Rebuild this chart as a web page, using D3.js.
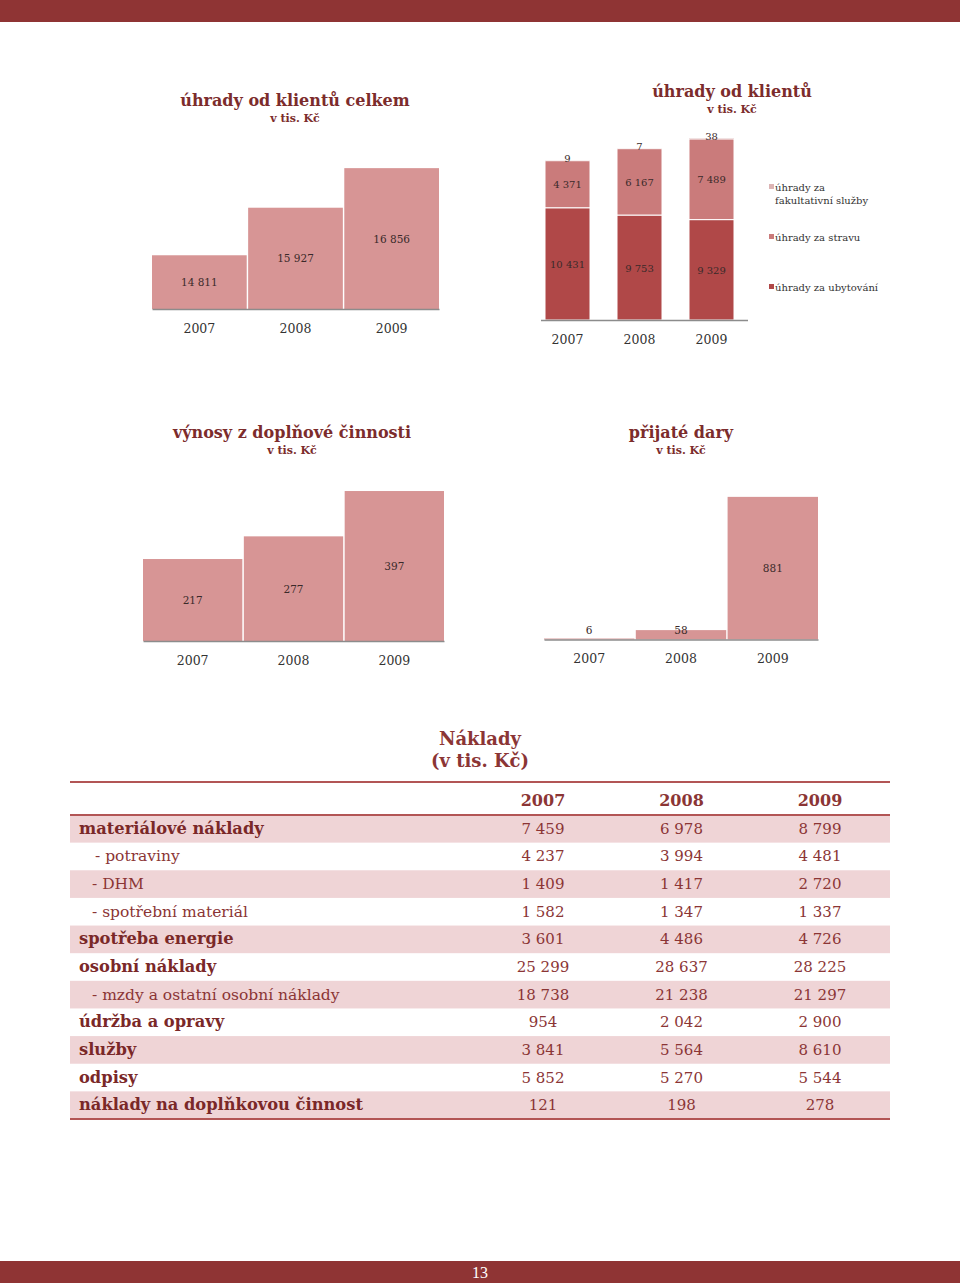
<!DOCTYPE html>
<html><head><meta charset="utf-8">
<script src="https://cdn.jsdelivr.net/npm/d3@7"></script>
<style>
body{margin:0;background:#fff;}
svg{display:block;}
text{font-family:"DejaVu Serif",serif;}
</style></head>
<body>
<script>
// ---------- DATA ----------
const years = ["2007", "2008", "2009"];
const uhradyCelkem = [14811, 15927, 16856];
const uhradyUbytovani = [10431, 9753, 9329];
const uhradyStrava = [4371, 6167, 7489];
const uhradyFakultativni = [9, 7, 38];
const stackSeries = ["úhrady za ubytování", "úhrady za stravu", "úhrady za fakultativní služby"];
const vynosyDoplnkove = [217, 277, 397];
const prijateDary = [6, 58, 881];

const tableTitle = ["Náklady", "(v tis. Kč)"];
const rowLabels = ["materiálové náklady", "- potraviny", "- DHM", "- spotřební materiál", "spotřeba energie",
  "osobní náklady", "- mzdy a ostatní osobní náklady", "údržba a opravy", "služby", "odpisy", "náklady na doplňkovou činnost"];
const rowIsSub = [false, true, true, true, false, false, true, false, false, false, false];
const naklady2007 = [7459, 4237, 1409, 1582, 3601, 25299, 18738, 954, 3841, 5852, 121];
const naklady2008 = [6978, 3994, 1417, 1347, 4486, 28637, 21238, 2042, 5564, 5270, 198];
const naklady2009 = [8799, 4481, 2720, 1337, 4726, 28225, 21297, 2900, 8610, 5544, 278];
const pageNumber = "13";

// ---------- STYLE ----------
const W = 960, H = 1283;
const C = {band:"#8f3434", title:"#7c2c2c", bar:"#d79595", dark:"#b04848", mid:"#ca7b7b", light:"#dcb4b4",
  axis:"#8c8c8c", label:"#3a2a2a", tableText:"#8b3535", shade:"#efd4d6", rule:"#b25555"};
const fmt = v => d3.format(",")(v).replace(/,/g, " ");

const svg = d3.select("body").append("svg").attr("width", W).attr("height", H);

// page bands
svg.append("rect").attr("x",0).attr("y",0).attr("width",W).attr("height",22).attr("fill",C.band);
svg.append("rect").attr("x",0).attr("y",1261).attr("width",W).attr("height",22).attr("fill",C.band);
svg.append("text").attr("x",W/2).attr("y",1278).attr("text-anchor","middle").attr("fill","#fff")
  .style("font-family","'Liberation Serif',serif").attr("font-size",16).text(pageNumber);

function chartTitle(cx, y, t1){
  svg.append("text").attr("x",cx).attr("y",y).attr("text-anchor","middle").attr("fill",C.title)
    .attr("font-weight","bold").attr("font-size",16).text(t1);
  svg.append("text").attr("x",cx).attr("y",y+16).attr("text-anchor","middle").attr("fill",C.title)
    .attr("font-weight","bold").attr("font-size",11).text("v tis. Kč");
}

function simpleBar(opts){
  const {values, xr, yr, domain, padIn, title, tcx, ty} = opts;
  chartTitle(tcx, ty, title);
  const g = svg.append("g");
  const x = d3.scaleBand().domain(years).range(xr).paddingInner(padIn).paddingOuter(0);
  const y = d3.scaleLinear().domain(domain).range(yr);
  const base = yr[0];
  g.selectAll("rect.b").data(values).join("rect").attr("class","b")
    .attr("x",(d,i)=>x(years[i])).attr("width",x.bandwidth())
    .attr("y",d=>y(d)).attr("height",d=>base - y(d)).attr("fill",C.bar);
  g.selectAll("text.v").data(values).join("text").attr("class","v")
    .attr("x",(d,i)=>x(years[i])+x.bandwidth()/2)
    .attr("y",d=>Math.min((y(d)+base)/2, base-10)+4)
    .attr("text-anchor","middle").attr("font-size",10.5).attr("fill",C.label).text(d=>fmt(d));
  const ax = g.append("g").attr("transform",`translate(0,${base})`)
    .call(d3.axisBottom(x).tickSize(0).tickPadding(15));
  ax.select(".domain").attr("stroke",C.axis).attr("stroke-width",1.6);
  ax.selectAll("text").attr("font-size",12.5).attr("fill","#333").style("font-family","'DejaVu Serif',serif");
}

// chart 1
simpleBar({values:uhradyCelkem, xr:[152,439], yr:[309,162], domain:[13550,17000], padIn:0.015,
  title:"úhrady od klientů celkem", tcx:295, ty:106});
// chart 3
simpleBar({values:vynosyDoplnkove, xr:[143,444], yr:[641,471], domain:[0,450], padIn:0.015,
  title:"výnosy z doplňové činnosti", tcx:292, ty:438});
// chart 4
simpleBar({values:prijateDary, xr:[544,818], yr:[639.5,477.6], domain:[0,1000], padIn:0.015,
  title:"přijaté dary", tcx:681, ty:438});

// chart 2 stacked
(function(){
  chartTitle(732, 97, "úhrady od klientů");
  const rows = years.map((yr,i)=>({year:yr, a:uhradyUbytovani[i], b:uhradyStrava[i], c:uhradyFakultativni[i]}));
  const keys = ["a","b","c"];
  const colors = [C.dark, C.mid, C.light];
  const stack = d3.stack().keys(keys)(rows);
  const x = d3.scaleBand().domain(years).range([531.5,747.5]).paddingInner(0.375).paddingOuter(0.1875);
  const y = d3.scaleLinear().domain([0,18000]).range([320,126.3]);
  const g = svg.append("g");
  stack.forEach((s,k)=>{
    g.selectAll(null).data(s).join("rect")
      .attr("x",d=>x(d.data.year)).attr("width",x.bandwidth())
      .attr("y",d=>y(d[1])).attr("height",d=>y(d[0])-y(d[1]))
      .attr("fill",colors[k]).attr("stroke","#fff").attr("stroke-width",k<2?1:0);
    g.selectAll(null).data(s).join("text")
      .attr("x",d=>x(d.data.year)+x.bandwidth()/2)
      .attr("y",d=>{const m=(y(d[0])+y(d[1]))/2; return (k===2? y(d[1])-3 : m)+4;})
      .attr("text-anchor","middle").attr("font-size",10).attr("fill",C.label)
      .text(d=>fmt(d[1]-d[0]));
  });
  const ax = g.append("g").attr("transform","translate(0,320)")
    .call(d3.axisBottom(x).tickSize(0).tickPadding(15));
  ax.select(".domain").attr("stroke",C.axis).attr("stroke-width",1.6).attr("d","M541,0.5H748");
  ax.selectAll("text").attr("font-size",12.5).attr("fill","#333").style("font-family","'DejaVu Serif',serif");
  // legend
  const leg = [
    {lines:["úhrady za","fakultativní služby"], color:C.light, y:187},
    {lines:["úhrady za stravu"], color:C.mid, y:237},
    {lines:["úhrady za ubytování"], color:C.dark, y:287}
  ];
  leg.forEach(l=>{
    svg.append("rect").attr("x",769).attr("y",l.y-3).attr("width",5).attr("height",5).attr("fill",l.color);
    l.lines.forEach((t,j)=>{
      svg.append("text").attr("x",775).attr("y",l.y+3.5+j*13).attr("font-size",10).attr("fill","#333").text(t);
    });
  });
})();

// ---------- TABLE ----------
svg.append("text").attr("x",480).attr("y",745).attr("text-anchor","middle").attr("fill",C.tableText)
  .attr("font-weight","bold").attr("font-size",18).text(tableTitle[0]);
svg.append("text").attr("x",480).attr("y",767).attr("text-anchor","middle").attr("fill",C.tableText)
  .attr("font-weight","bold").attr("font-size",18).text(tableTitle[1]);

const tX0 = 70, tX1 = 890, headTop = 782, headBot = 815, tBot = 1119;
const rowY = d3.scaleBand().domain(d3.range(rowLabels.length)).range([headBot, tBot]);
const colX = d3.scalePoint().domain(years).range([543, 820]);
const tg = svg.append("g");
tg.selectAll("rect.sh").data(rowLabels).join("rect").attr("class","sh")
  .attr("x",tX0).attr("width",tX1-tX0).attr("y",(d,i)=>rowY(i)).attr("height",rowY.bandwidth())
  .attr("fill",(d,i)=> i%2===0 ? C.shade : "none");
[headTop, headBot, tBot].forEach(yy=>{
  tg.append("line").attr("x1",tX0).attr("x2",tX1).attr("y1",yy).attr("y2",yy).attr("stroke",C.rule).attr("stroke-width",2);
});
tg.selectAll("text.yh").data(years).join("text").attr("class","yh")
  .attr("x",d=>colX(d)).attr("y",806).attr("text-anchor","middle").attr("font-weight","bold")
  .attr("font-size",16).attr("fill",C.tableText).text(d=>d);
tg.selectAll("text.rl").data(rowLabels).join("text").attr("class","rl")
  .attr("x",(d,i)=> rowIsSub[i] ? (i===1?95:92) : 79)
  .attr("y",(d,i)=>rowY(i)+rowY.bandwidth()/2+5)
  .attr("font-weight",(d,i)=>rowIsSub[i]?"normal":"bold")
  .attr("font-size",(d,i)=>rowIsSub[i]?15.5:16.3)
  .attr("fill",(d,i)=>rowIsSub[i]?C.tableText:"#7a2828").text(d=>d);
[naklady2007, naklady2008, naklady2009].forEach((col,ci)=>{
  tg.selectAll(null).data(col).join("text")
    .attr("x",colX(years[ci])).attr("y",(d,i)=>rowY(i)+rowY.bandwidth()/2+5)
    .attr("text-anchor","middle").attr("font-size",15).attr("fill",C.tableText).text(d=>fmt(d));
});
</script>
</body></html>
